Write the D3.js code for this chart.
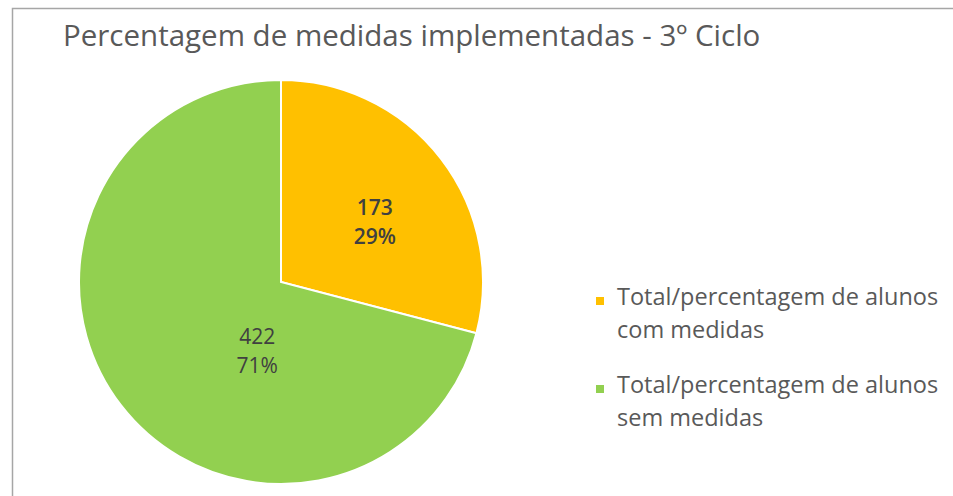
<!DOCTYPE html>
<html>
<head>
<meta charset="utf-8">
<script src="https://cdn.jsdelivr.net/npm/d3@7"></script>
<style>
  body { margin: 0; background: #fff; }
  text { font-family: "Open Sans", "Noto Sans", sans-serif; }
</style>
</head>
<body>
<div id="chart"></div>
<script>
// chart data
const categories = ["Total/percentagem de alunos com medidas", "Total/percentagem de alunos sem medidas"];
const legendLines = [["Total/percentagem de alunos", "com medidas"], ["Total/percentagem de alunos", "sem medidas"]];
const values = [173, 422];
const percents = ["29%", "71%"];
const colors = ["#ffc000", "#92d050"];
const title = "Percentagem de medidas implementadas - 3º Ciclo";

function loadChart() {
  let svgWidth = 953;
  let svgHeight = 496;

  let svg = d3.select("#chart")
    .append("svg")
    .attr("width", svgWidth)
    .attr("height", svgHeight);

  // frame (runs off right and bottom)
  svg.append("rect")
    .attr("x", 12.5)
    .attr("y", 8.5)
    .attr("width", 1000)
    .attr("height", 600)
    .attr("fill", "none")
    .attr("stroke", "#a6a6a6")
    .attr("stroke-width", 1.5);

  svg.append("text")
    .attr("x", 63)
    .attr("y", 46)
    .attr("font-size", "29.5px")
    .attr("fill", "#595959")
    .text(title);

  let cx = 281, cy = 282, radius = 202;

  let data = categories.map((c, i) => ({ name: c, value: values[i], pct: percents[i], color: colors[i] }));

  let pie = d3.pie().value(d => d.value).sort(null);
  let arc = d3.arc().innerRadius(0).outerRadius(radius);

  let pieGroup = svg.append("g")
    .attr("transform", `translate(${cx}, ${cy})`);

  let arcs = pie(data);

  pieGroup.selectAll("path")
    .data(arcs)
    .enter()
    .append("path")
    .attr("d", arc)
    .attr("fill", d => d.data.color)
    .attr("stroke", "#fff")
    .attr("stroke-width", 2);

  // label anchors: centroid on a mid ring, nudged like Excel's best fit
  let labelArc = d3.arc().innerRadius(radius * 0.53).outerRadius(radius * 0.53);
  let nudge = [[9, 5], [61, 4]];

  let labels = pieGroup.selectAll(".lbl")
    .data(arcs)
    .enter()
    .append("text")
    .attr("class", "lbl")
    .attr("transform", (d, i) => {
      let c = labelArc.centroid(d);
      return `translate(${c[0] + nudge[i][0]}, ${c[1] + nudge[i][1]})`;
    })
    .attr("text-anchor", "middle")
    .attr("font-size", "21px")
    .attr("font-weight", (d, i) => i === 0 ? "600" : "400")
    .attr("fill", "#404040");

  labels.append("tspan")
    .attr("x", 0)
    .attr("y", -7)
    .text(d => d.data.value);

  labels.append("tspan")
    .attr("x", 0)
    .attr("y", 22)
    .text(d => d.data.pct);

  // legend
  let legend = svg.append("g")
    .attr("transform", "translate(596, 0)");

  let item = legend.selectAll("g")
    .data(data)
    .enter()
    .append("g")
    .attr("transform", (d, i) => `translate(0, ${i * 88})`);

  item.append("rect")
    .attr("x", 0)
    .attr("y", 297)
    .attr("width", 8)
    .attr("height", 8)
    .attr("fill", d => d.color);

  item.append("text")
    .attr("y", 305)
    .attr("font-size", "23.5px")
    .attr("fill", "#595959")
    .selectAll("tspan")
    .data((d, i) => legendLines[i])
    .enter()
    .append("tspan")
    .attr("x", 21)
    .attr("dy", (d, j) => j === 0 ? 0 : 33)
    .text(d => d);
}

loadChart();
</script>
</body>
</html>
